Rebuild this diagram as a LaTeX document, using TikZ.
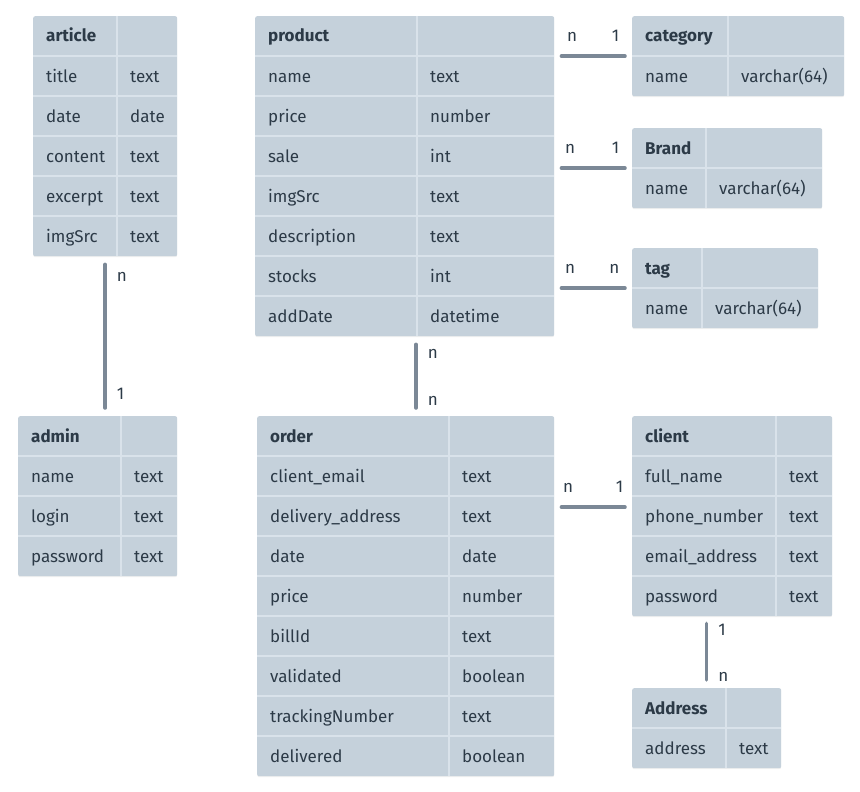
\documentclass[tikz,border=0pt]{standalone}
\usepackage{fontspec}
\setmainfont{Fira Sans}
\usetikzlibrary{calc,shadows,positioning}
\definecolor{tablefill}{HTML}{C5D1DB}
\definecolor{tablesep}{HTML}{D9E2EA}
\definecolor{tabletext}{HTML}{2C3A47}
\definecolor{relline}{HTML}{7B8896}
\tikzset{
    tablebox/.style={
        fill=tablefill,
        rounded corners=2pt,
        inner sep=0pt,
        anchor=north west,
        drop shadow={opacity=0.12, shadow xshift=0pt, shadow yshift=-1pt}
    },
    sepline/.style={draw=tablesep, line width=2pt},
    field/.style={anchor=base west, inner sep=0pt, text=tabletext, font=\fontsize{17}{19}\selectfont},
    relation/.style={draw=relline, line width=3.5pt, line cap=round},
    card/.style={inner sep=0pt, text=tabletext, font=\fontsize{17}{19}\selectfont}
}
% #1 name, #2 left, #3 top, #4 column split, #5 right, #6 rows, #7 title, #8 field/type list
\newcommand{\dbtable}[8]{%
    \node[tablebox, minimum width={(#5-#2)*1pt}, minimum height={(#6+1)*40pt}] (#1) at (#2,#3) {};
    \draw[sepline] (#4,#3) -- (#4,{#3+(#6+1)*40});
    \node[field, font=\fontsize{17}{19}\selectfont\bfseries] (#1-title) at (#2+13,#3+26) {#7};
    \foreach \fname/\ftype [count=\i] in {#8} {
        \draw[sepline] (#2,#3+40*\i) -- (#5,#3+40*\i);
        \node[field] (#1-f\i) at (#2+13,#3+26+40*\i) {\fname};
        \node[field] (#1-t\i) at (#4+13,#3+26+40*\i) {\ftype};
    }
}

\begin{document}
\begin{tikzpicture}[x=1pt, y=-1pt]
    \useasboundingbox (0,0) rectangle (860,792);

    % Tables
    \dbtable{article}{33}{16}{117}{177}{5}{article}{title/text, date/date, content/text, excerpt/text, imgSrc/text}
    \dbtable{product}{255}{16}{417}{554}{7}{product}{name/text, price/number, sale/int, imgSrc/text, description/text, stocks/int, addDate/datetime}
    \dbtable{category}{632}{16}{728}{844}{1}{category}{name/varchar(64)}
    \dbtable{brand}{632}{128}{706}{822}{1}{Brand}{name/varchar(64)}
    \dbtable{tag}{632}{248}{702}{818}{1}{tag}{name/varchar(64)}
    \dbtable{admin}{18}{416}{121}{177}{3}{admin}{name/text, login/text, password/text}
    \dbtable{order}{257}{416}{449}{554}{8}{order}{client\_email/text, delivery\_address/text, date/date, price/number, billId/text, validated/boolean, trackingNumber/text, delivered/boolean}
    \dbtable{client}{632}{416}{776}{832}{4}{client}{full\_name/text, phone\_number/text, email\_address/text, password/text}
    \dbtable{address}{632}{688}{726}{781}{1}{Address}{address/text}

    % Relations
    \coordinate (po) at (416,0);
    \draw[relation] ([xshift=7pt]product.east |- category.west) -- node[card, pos=0, above right=13pt and 4pt] {n} node[card, pos=1, above left=13pt and 4pt] {1} ([xshift=-7pt]category.west);
    \draw[relation] ([xshift=7pt]product.east |- brand.west) -- node[card, pos=0, above right=13pt and 2pt] {n} node[card, pos=1, above left=13pt and 4pt] {1} ([xshift=-7pt]brand.west);
    \draw[relation] ([xshift=7pt]product.east |- tag.west) -- node[card, pos=0, above right=13pt and 2pt] {n} node[card, pos=1, above left=13pt and 4pt] {n} ([xshift=-7pt]tag.west);
    \draw[relation] ([yshift=-8pt]article.south) -- node[card, pos=0, below right=6pt and 10pt] {n} node[card, pos=1, above right=7pt and 10pt] {1} ([yshift=8pt]article.south |- admin.north);
    \draw[relation] ([yshift=-8pt]po |- product.south) -- node[card, pos=0, below right=3pt and 10pt] {n} node[card, pos=1, above right=1pt and 10pt] {n} ([yshift=8pt]po |- order.north);
    \draw[relation] ([xshift=7pt,yshift=9pt]order.east |- client.west) -- node[card, pos=0, above right=13pt and 0pt] {n} node[card, pos=1, above left=13pt and 0pt] {1} ([xshift=-7pt,yshift=9pt]client.west);
    \draw[relation] ([yshift=-7pt]address.north |- client.south) -- node[card, pos=0, below right=-1pt and 10pt] {1} node[card, pos=1, above right=-3pt and 10pt] {n} ([yshift=8pt]address.north);
\end{tikzpicture}
\end{document}
